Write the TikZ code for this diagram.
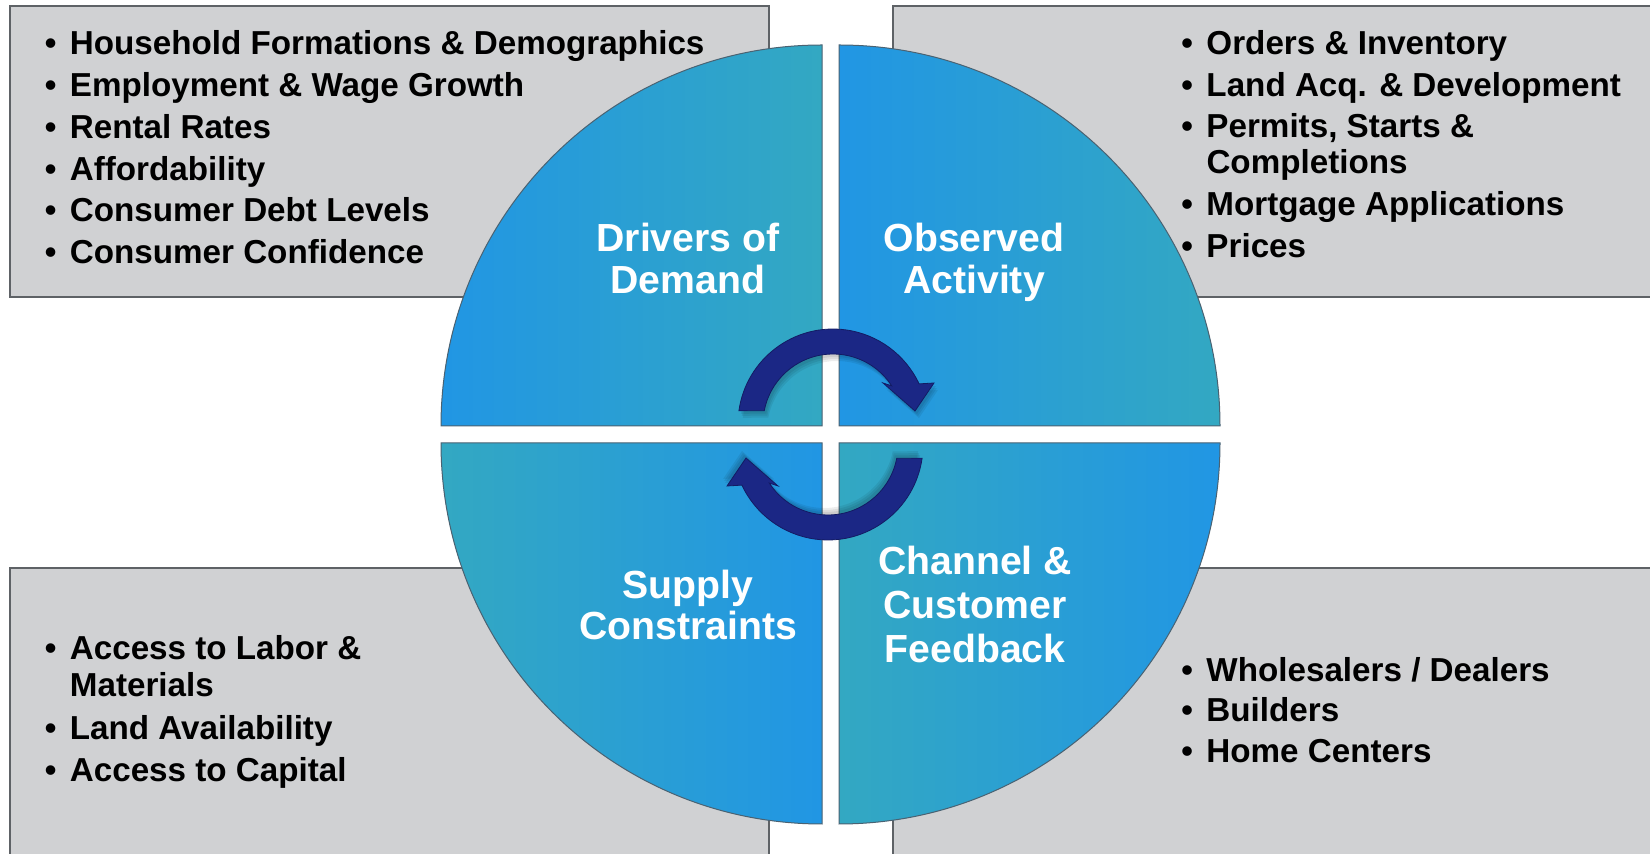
\documentclass[tikz,border=0pt]{standalone}
\usepackage{fontspec}
\setmainfont{Liberation Sans}
\definecolor{boxgray}{HTML}{D0D1D3}
\definecolor{boxline}{HTML}{5E6266}
\definecolor{qblue}{HTML}{2196E4}
\definecolor{qteal}{HTML}{33A8C2}
\definecolor{navy}{HTML}{1B2785}
\definecolor{navyd}{HTML}{131B63}
\definecolor{qline}{HTML}{4A6272}
\newcommand{\bul}{\makebox[12.55pt][l]{\textbullet}}
\newcommand{\ind}{\hspace*{12.55pt}}
\begin{document}
\begin{tikzpicture}[x=0.5pt,y=-0.5pt,
  infobox/.style={fill=boxgray,draw=boxline,line width=0.8pt},
  quad/.style={draw=qline,line width=0.5pt},
  blt/.style={anchor=base west,inner sep=0,font=\fontsize{16.6}{20}\selectfont\bfseries,text=black},
  qlabel/.style={anchor=base,inner sep=0,font=\fontsize{19.6}{22}\selectfont\bfseries,text=white},
  cyc/.style={fill=navy,draw=navyd,line width=0.4pt},
  cycshadow/.style={fill=black,opacity=0.07}]
\useasboundingbox (0,0) rectangle (1650,854);
\clip (0,0) rectangle (1650,854);
\fill[white] (0,0) rectangle (1650,854);
% info boxes
\path[infobox] (10,6) rectangle (769,297);
\path[infobox] (893,6) rectangle (1670,297);
\path[infobox] (10,568) rectangle (769,880);
\path[infobox] (893,568) rectangle (1670,880);
% quadrants
\path[quad,left color=qblue,right color=qteal] (822,426) -- (441,426) arc[start angle=180,end angle=270,radius=381] -- cycle;
\path[quad,left color=qblue,right color=qteal] (839,426) -- (839,45) arc[start angle=270,end angle=360,radius=381] -- cycle;
\path[quad,left color=qteal,right color=qblue] (822,443) -- (822,824) arc[start angle=90,end angle=180,radius=381] -- cycle;
\path[quad,left color=qteal,right color=qblue] (839,443) -- (1220,443) arc[start angle=0,end angle=90,radius=381] -- cycle;
% bullet lists
\node[blt] (tl1) at (44.4,55) {\bul Household Formations \& Demographics};
\node[blt] (tl2) at (44.4,96.7) {\bul Employment \& Wage Growth};
\node[blt] (tl3) at (44.4,138.4) {\bul Rental Rates};
\node[blt] (tl4) at (44.4,180.1) {\bul Affordability};
\node[blt] (tl5) at (44.4,221.8) {\bul Consumer Debt Levels};
\node[blt] (tl6) at (44.4,263.5) {\bul Consumer Confidence};
\node[blt] (tr1) at (1181,55) {\bul Orders \& Inventory};
\node[blt] (tr2) at (1181,96.5) {\bul Land Acq. \& Development};
\node[blt] (tr3) at (1181,138) {\bul Permits, Starts \&};
\node[blt] (tr4) at (1181,174) {\ind Completions};
\node[blt] (tr5) at (1181,216) {\bul Mortgage Applications};
\node[blt] (tr6) at (1181,258) {\bul Prices};
\node[blt] (bl1) at (44.4,660) {\bul Access to Labor \&};
\node[blt] (bl2) at (44.4,697) {\ind Materials};
\node[blt] (bl3) at (44.4,740) {\bul Land Availability};
\node[blt] (bl4) at (44.4,782) {\bul Access to Capital};
\node[blt] (br1) at (1181,682) {\bul Wholesalers / Dealers};
\node[blt] (br2) at (1181,722) {\bul Builders};
\node[blt] (br3) at (1181,763) {\bul Home Centers};
% quadrant labels
\node[qlabel] (dd1) at (688,251.7) {Drivers of};
\node[qlabel] (dd2) at (688,293.3) {Demand};
\node[qlabel] (oa1) at (974,251.7) {Observed};
\node[qlabel] (oa2) at (974,293.3) {Activity};
\node[qlabel] (sc1) at (688,598.3) {Supply};
\node[qlabel] (sc2) at (688,640) {Constraints};
\node[qlabel] (cf1) at (975,575) {Channel \&};
\node[qlabel] (cf2) at (975,619) {Customer};
\node[qlabel] (cf3) at (975,663) {Feedback};
% cycle arrows
\foreach \rot in {0,180}{
  \begin{scope}[rotate around={\rot:(830.5,434.5)}]
    \foreach \dx/\dy in {2/3,3/5,4/7}{
      \path[cycshadow,shift={(\dx,\dy)}] (738.9,410.8) arc[start angle=188,end angle=335,radius=95]
        -- (934,383) -- (915,411) -- (883,383) -- (891.7,385.9)
        arc[start angle=327,end angle=191,radius=70] -- cycle;
    }
    \path[cyc] (738.9,410.8) arc[start angle=188,end angle=335,radius=95]
      -- (934,383) -- (915,411) -- (883,383) -- (891.7,385.9)
      arc[start angle=327,end angle=191,radius=70] -- cycle;
  \end{scope}
}
\end{tikzpicture}
\end{document}
